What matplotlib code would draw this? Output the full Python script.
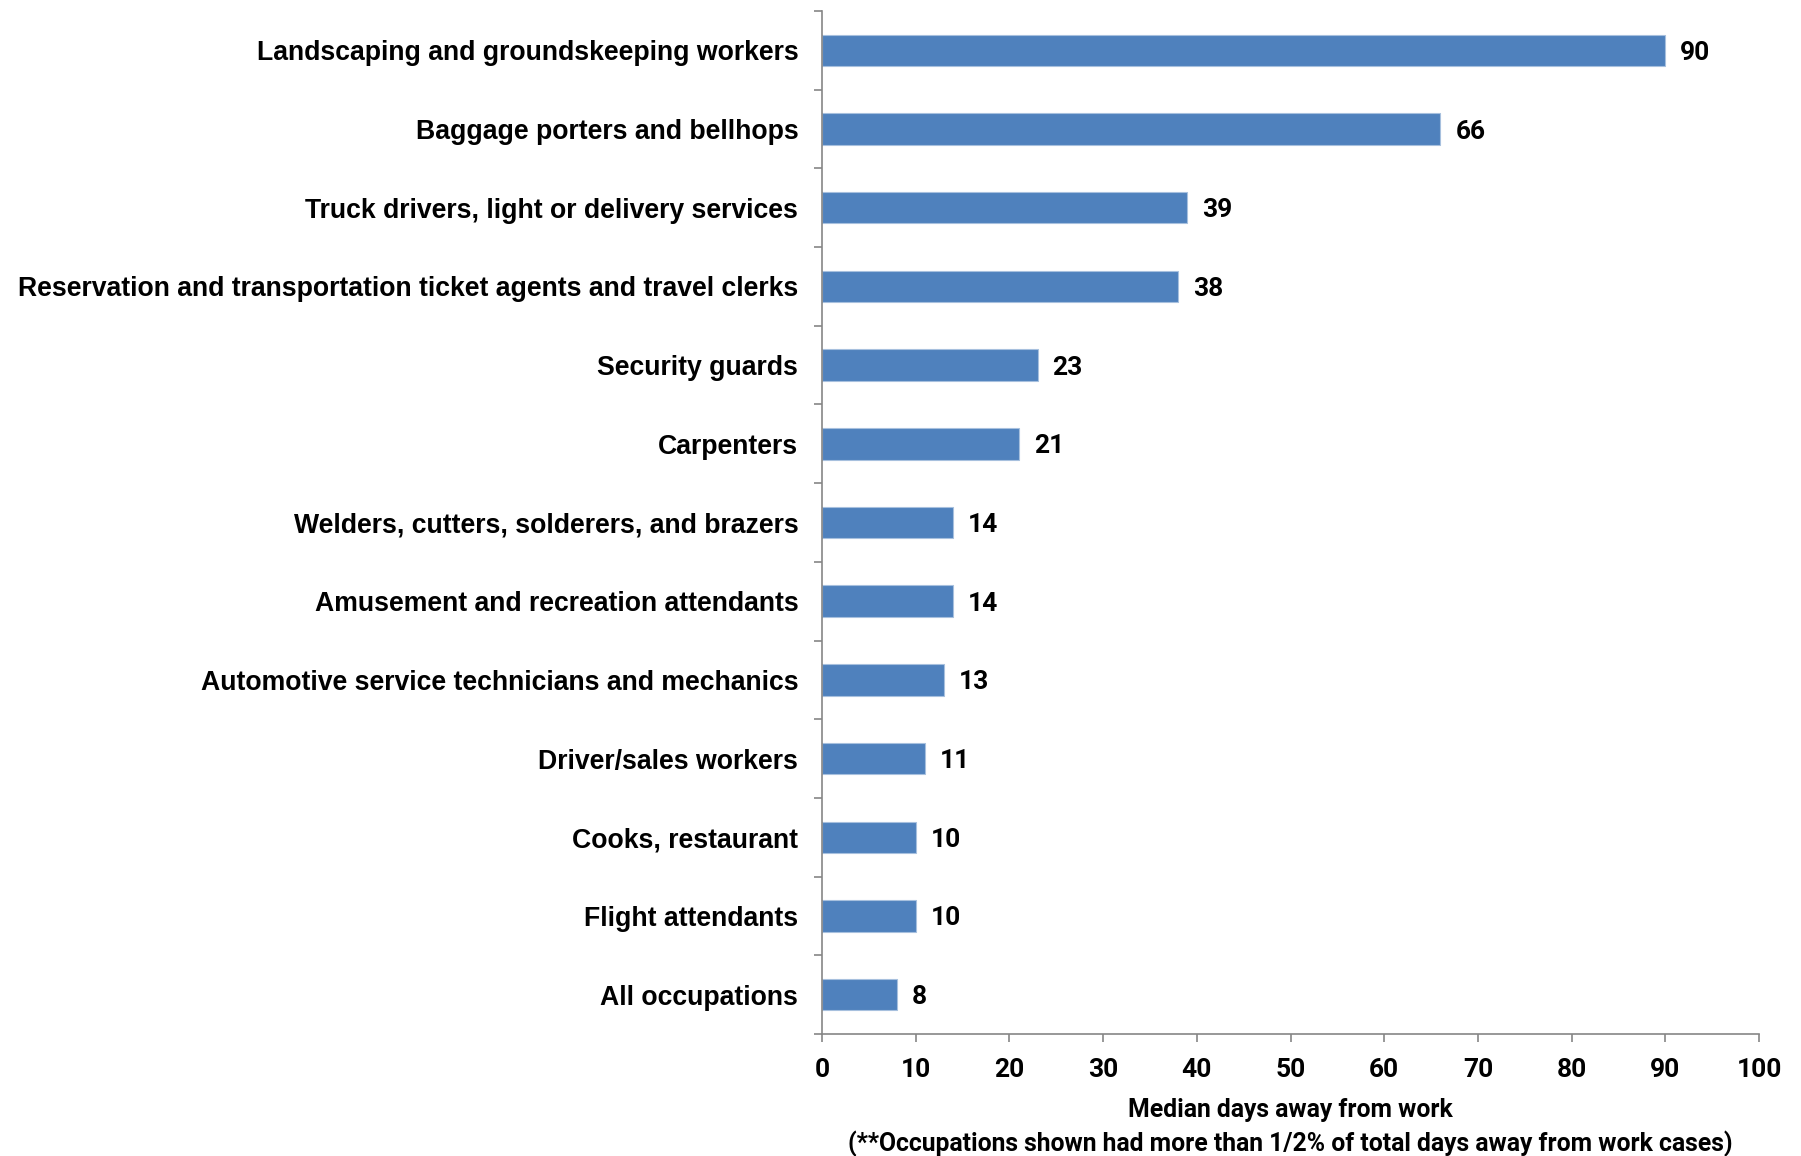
import matplotlib
matplotlib.use("Agg")
import matplotlib.pyplot as plt

occupations = [
    "Landscaping and groundskeeping workers",
    "Baggage porters and bellhops",
    "Truck drivers, light or delivery services",
    "Reservation and transportation ticket agents and travel clerks",
    "Security guards",
    "Carpenters",
    "Welders, cutters, solderers, and brazers",
    "Amusement and recreation attendants",
    "Automotive service technicians and mechanics",
    "Driver/sales workers",
    "Cooks, restaurant",
    "Flight attendants",
    "All occupations",
]
median_days = [90, 66, 39, 38, 23, 21, 14, 14, 13, 11, 10, 10, 8]
x_ticks = [0, 10, 20, 30, 40, 50, 60, 70, 80, 90, 100]

bar_color = "#4F81BD"
axis_color = "#868686"
num_font = ["Roboto", "DejaVu Sans"]

fig = plt.figure(figsize=(18.01, 11.56), dpi=100)
ax = fig.add_axes([0.4564, 0.1055, 0.5203, 0.885])

pos = list(range(len(occupations)))
ax.barh(pos, median_days, height=0.4, color=bar_color, edgecolor="#A7C0DE", linewidth=0.8)
ax.set_ylim(len(occupations) - 0.5, -0.5)
ax.set_xlim(0, 100)

for p, v in zip(pos, median_days):
    ax.text(v + 1.6, p, str(v), va="center_baseline", ha="left", fontsize=19,
            fontweight="bold", family=num_font)

ax.set_yticks(pos)
ax.set_yticklabels(occupations, fontsize=19.2, fontweight="bold", family="Liberation Sans")
ax.set_yticks([p - 0.5 for p in range(len(occupations) + 1)], minor=True)
ax.tick_params(axis="y", which="major", length=0, pad=17)
ax.tick_params(axis="y", which="minor", length=6, width=1.2, color=axis_color, direction="out")

ax.set_xticks(x_ticks)
ax.set_xticklabels([str(t) for t in x_ticks], fontsize=19, fontweight="bold", family=num_font)
ax.tick_params(axis="x", length=6, width=1.2, color=axis_color, direction="out", pad=11)

ax.set_xlabel("Median days away from work\n(**Occupations shown had more than 1/2% of total days away from work cases)",
              fontsize=17.8, fontweight="bold", family=num_font, labelpad=12,
              linespacing=1.4)

for side in ["top", "right"]:
    ax.spines[side].set_visible(False)
for side in ["left", "bottom"]:
    ax.spines[side].set_color(axis_color)
    ax.spines[side].set_linewidth(1.2)

fig.savefig("out.png", dpi=100)
